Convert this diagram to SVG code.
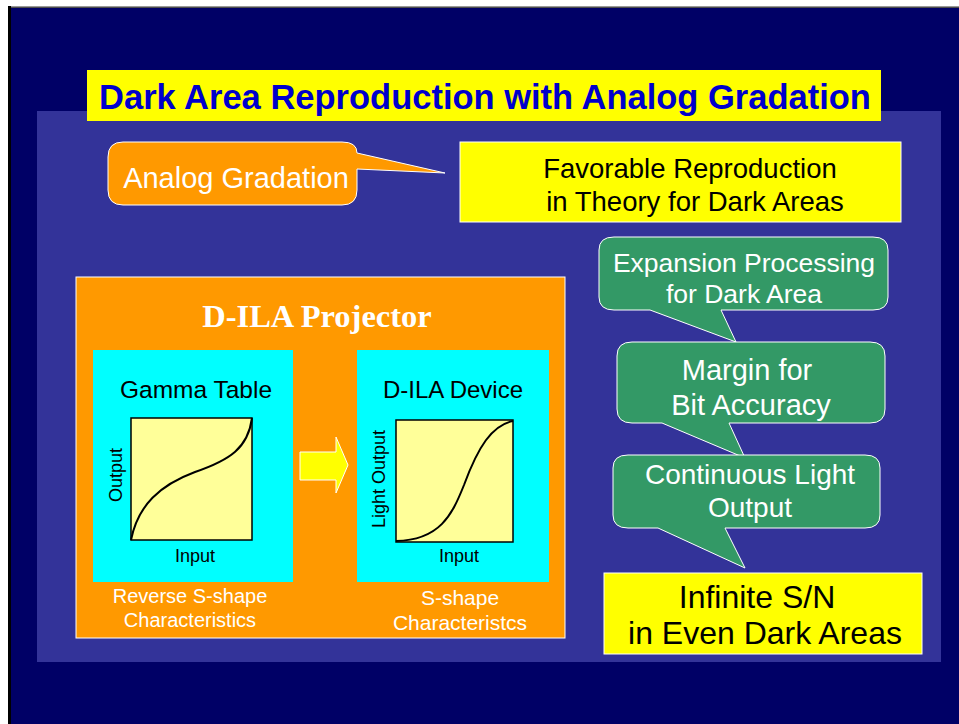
<svg xmlns="http://www.w3.org/2000/svg" width="959" height="724" viewBox="0 0 959 724">
<style>
.sans{font-family:"Liberation Sans",Arial,sans-serif}
.w{fill:#FFFFFF}
.k{fill:#000000}
.call{stroke:#FFFFFF;stroke-width:1}
.orange{fill:#FF9900}
.green{fill:#339966}
.yel{fill:#FFFF00;stroke:#FFFFFF;stroke-width:1}
.cyan{fill:#00FFFF}
.chart{fill:#FFFF99;stroke:#000000;stroke-width:1.5}
.curve{fill:none;stroke:#000000;stroke-width:2}
</style>
<rect x="0" y="0" width="959" height="724" fill="#FFFFFF"/>
<rect x="8" y="6" width="951" height="718" fill="#000000"/>
<rect x="11" y="6" width="948" height="1.5" fill="#999999"/>
<rect x="11" y="8" width="948" height="716" fill="#000066"/>
<rect x="37" y="111" width="904" height="551" fill="#333399"/>

<g id="title">
<rect x="87" y="70" width="794" height="51" fill="#FFFF00"/>
<text x="485" y="109" text-anchor="middle" class="sans" font-weight="bold" font-size="34.5" fill="#0000CC">Dark Area Reproduction with Analog Gradation</text>
</g>

<g id="analog">
<path class="orange call" d="M123,142 H342 Q357,142 357,153 L445,173 L357,169 V190 Q357,205 342,205 H123 Q108,205 108,190 V157 Q108,142 123,142 Z"/>
<text x="236" y="188" text-anchor="middle" class="sans w" font-size="29">Analog Gradation</text>
</g>

<g id="favorable">
<rect class="yel" x="460" y="142" width="441" height="80"/>
<text x="690" y="178" text-anchor="middle" class="sans k" font-size="27.5">Favorable Reproduction</text>
<text x="695" y="211" text-anchor="middle" class="sans k" font-size="27.5">in Theory for Dark Areas</text>
</g>

<g id="expansion">
<path class="green call" d="M614,237 H873 Q888,237 888,250 V297 Q888,310 873,310 H721 L736,342 L650,310 H614 Q599,310 599,297 V250 Q599,237 614,237 Z"/>
<text x="744" y="272" text-anchor="middle" class="sans w" font-size="26.5">Expansion Processing</text>
<text x="744" y="303" text-anchor="middle" class="sans w" font-size="26.5">for Dark Area</text>
</g>

<g id="margin">
<path class="green call" d="M632,342 H870 Q885,342 885,356 V409 Q885,423 870,423 H729 L745,458 L662,423 H632 Q617,423 617,409 V356 Q617,342 632,342 Z"/>
<text x="747" y="380" text-anchor="middle" class="sans w" font-size="29">Margin for</text>
<text x="751" y="415" text-anchor="middle" class="sans w" font-size="29">Bit Accuracy</text>
</g>

<g id="continuous">
<path class="green call" d="M628,455 H865 Q880,455 880,468 V515 Q880,528 865,528 H725 L745,568 L658,528 H628 Q613,528 613,515 V468 Q613,455 628,455 Z"/>
<text x="750" y="484" text-anchor="middle" class="sans w" font-size="28">Continuous Light</text>
<text x="750" y="517" text-anchor="middle" class="sans w" font-size="28">Output</text>
</g>

<g id="infinite">
<rect class="yel" x="604" y="573" width="318" height="81"/>
<text x="757" y="608" text-anchor="middle" class="sans k" font-size="32">Infinite S/N</text>
<text x="765" y="644" text-anchor="middle" class="sans k" font-size="32">in Even Dark Areas</text>
</g>

<g id="projector">
<rect x="76" y="277" width="489" height="361" fill="#FF9900" stroke="#FFFFFF" stroke-width="1"/>
<text x="317" y="327" text-anchor="middle" font-family="'Liberation Serif','Times New Roman',serif" font-weight="bold" font-size="32.5" fill="#FFFFFF">D-ILA Projector</text>
<text x="190" y="603" text-anchor="middle" class="sans w" font-size="20">Reverse S-shape</text>
<text x="190" y="627" text-anchor="middle" class="sans w" font-size="20">Characteristics</text>
<text x="460" y="605" text-anchor="middle" class="sans w" font-size="21">S-shape</text>
<text x="460" y="630" text-anchor="middle" class="sans w" font-size="21">Characteristcs</text>
</g>

<g id="gamma-table">
<rect class="cyan" x="93" y="350" width="200" height="232"/>
<text x="196" y="398" text-anchor="middle" class="sans k" font-size="24.5">Gamma Table</text>
<rect class="chart" x="131" y="418" width="121" height="122"/>
<path class="curve" d="M131,540 C138,505 160,485 195,472 C230,460 248,448 252,418"/>
<text transform="translate(122,475) rotate(-90)" text-anchor="middle" class="sans k" font-size="18">Output</text>
<text x="195" y="562" text-anchor="middle" class="sans k" font-size="18">Input</text>
</g>

<g id="dila-device">
<rect class="cyan" x="357" y="350" width="192" height="232"/>
<text x="453" y="398" text-anchor="middle" class="sans k" font-size="24">D-ILA Device</text>
<rect class="chart" x="396" y="420" width="117" height="122"/>
<path class="curve" d="M396,541 C440,540 452,515 464,485 C478,447 492,425 513,421"/>
<text transform="translate(385,479) rotate(-90)" text-anchor="middle" class="sans k" font-size="18">Light Output</text>
<text x="459" y="562" text-anchor="middle" class="sans k" font-size="18">Input</text>
</g>

<g id="connectors">
<path d="M300,452 H336 V437 L348,465 L336,493 V480 H300 Z" fill="#FFFF00" stroke="#FFFFFF" stroke-width="1"/>
</g>
</svg>
